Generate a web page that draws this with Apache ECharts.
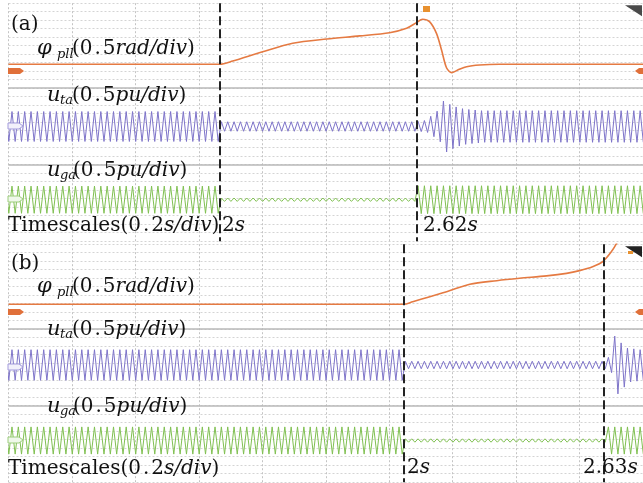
<!DOCTYPE html>
<html><head><meta charset="utf-8">
<script src="https://cdn.jsdelivr.net/npm/echarts@6/dist/echarts.min.js"></script>
<style>html,body{margin:0;padding:0;background:#fff}#c{width:643px;height:483px}</style>
</head><body><div id="c"></div>
<script>
// ================= DATA =================
const PERIOD = 0.02;                 // s (50 Hz)
const timeWindowA = [1.334, 3.334];  // s, 10 div x 0.2 s/div
const timeWindowB = [0.754, 2.754];
const eventTimesA = [2, 2.62];
const eventTimesB = [2, 2.63];
const eventLabelsA = ['2', '2.62'];
const eventLabelsB = ['2', '2.63'];
const cycleStartA = 1.32;            // start time of first listed cycle
const cycleStartB = 0.74;

// phase-locked-loop angle (rad), panel (a)
const phiA_t = [1.334, 2.0, 2.041, 2.135, 2.23, 2.337, 2.441, 2.535, 2.589, 2.62, 2.639, 2.661, 2.683, 2.699, 2.715, 2.731, 2.75, 2.778, 2.819, 2.882, 3.334];
const phiA_v = [0, 0, 0.19, 0.74, 1.24, 1.49, 1.67, 1.86, 2.12, 2.45, 2.65, 2.51, 1.82, 0.84, -0.22, -0.49, -0.34, -0.14, -0.04, 0, 0];
// panel (b)
const phiB_t = [0.754, 2.0, 2.028, 2.135, 2.208, 2.293, 2.365, 2.45, 2.513, 2.554, 2.595, 2.627, 2.658, 2.671, 2.687];
const phiB_v = [0, 0, 0.15, 0.74, 1.18, 1.39, 1.53, 1.67, 1.82, 1.98, 2.21, 2.51, 3.19, 3.59, 4.14];

// per-cycle peak amplitude (pu) of u_ta and u_ga
const utaA_amp = [
0.88,0.88,0.88,0.88,0.88,0.88,0.88,0.88,0.88,0.88,
0.88,0.88,0.88,0.88,0.88,0.88,0.88,0.88,0.88,0.88,
0.88,0.88,0.88,0.88,0.88,0.88,0.88,0.88,0.88,0.88,
0.88,0.88,0.88,0.88,0.28,0.28,0.28,0.28,0.28,0.28,
0.28,0.28,0.28,0.28,0.28,0.28,0.28,0.28,0.28,0.28,
0.28,0.28,0.28,0.28,0.28,0.28,0.28,0.28,0.28,0.28,
0.28,0.28,0.28,0.28,0.28,0.30,0.35,0.60,0.90,1.50,
1.30,1.15,1.05,1.00,0.97,0.93,0.93,0.93,0.93,0.93,
0.93,0.93,0.93,0.93,0.93,0.93,0.93,0.93,0.93,0.93,
0.93,0.93,0.93,0.93,0.93,0.93,0.93,0.93,0.93,0.93,
0.93];
const ugaA_amp = [
0.80,0.80,0.80,0.80,0.80,0.80,0.80,0.80,0.80,0.80,
0.80,0.80,0.80,0.80,0.80,0.80,0.80,0.80,0.80,0.80,
0.80,0.80,0.80,0.80,0.80,0.80,0.80,0.80,0.80,0.80,
0.80,0.80,0.80,0.80,0.10,0.10,0.10,0.10,0.10,0.10,
0.10,0.10,0.10,0.10,0.10,0.10,0.10,0.10,0.10,0.10,
0.10,0.10,0.10,0.10,0.10,0.10,0.10,0.10,0.10,0.10,
0.10,0.10,0.10,0.10,0.10,0.82,0.82,0.82,0.82,0.82,
0.82,0.82,0.82,0.82,0.82,0.82,0.82,0.82,0.82,0.82,
0.82,0.82,0.82,0.82,0.82,0.82,0.82,0.82,0.82,0.82,
0.82,0.82,0.82,0.82,0.82,0.82,0.82,0.82,0.82,0.82,
0.82];
const utaB_amp = [
0.90,0.90,0.90,0.90,0.90,0.90,0.90,0.90,0.90,0.90,
0.90,0.90,0.90,0.90,0.90,0.90,0.90,0.90,0.90,0.90,
0.90,0.90,0.90,0.90,0.90,0.90,0.90,0.90,0.90,0.90,
0.90,0.90,0.90,0.90,0.90,0.90,0.90,0.90,0.90,0.90,
0.90,0.90,0.90,0.90,0.90,0.90,0.90,0.90,0.90,0.90,
0.90,0.90,0.90,0.90,0.90,0.90,0.90,0.90,0.90,0.90,
0.90,0.90,0.90,0.22,0.22,0.22,0.22,0.22,0.22,0.22,
0.22,0.22,0.22,0.22,0.22,0.22,0.22,0.22,0.22,0.22,
0.22,0.22,0.22,0.22,0.22,0.22,0.22,0.22,0.22,0.22,
0.22,0.22,0.22,0.22,0.22,0.45,1.70,1.30,1.00,0.95,
0.90];
const ugaB_amp = [
0.80,0.80,0.80,0.80,0.80,0.80,0.80,0.80,0.80,0.80,
0.80,0.80,0.80,0.80,0.80,0.80,0.80,0.80,0.80,0.80,
0.80,0.80,0.80,0.80,0.80,0.80,0.80,0.80,0.80,0.80,
0.80,0.80,0.80,0.80,0.80,0.80,0.80,0.80,0.80,0.80,
0.80,0.80,0.80,0.80,0.80,0.80,0.80,0.80,0.80,0.80,
0.80,0.80,0.80,0.80,0.80,0.80,0.80,0.80,0.80,0.80,
0.80,0.80,0.80,0.10,0.10,0.10,0.10,0.10,0.10,0.10,
0.10,0.10,0.10,0.10,0.10,0.10,0.10,0.10,0.10,0.10,
0.10,0.10,0.10,0.10,0.10,0.10,0.10,0.10,0.10,0.10,
0.10,0.10,0.10,0.10,0.10,0.80,0.80,0.80,0.80,0.80,
0.80];

const panelTags = ['(a)', '(b)'];
const chanNames = [['\u03c6', 'pll', '(0\u200a.\u200a5', 'rad/div', ')'], ['u', 'ta', '(0\u200a.\u200a5', 'pu/div', ')'], ['u', 'ga', '(0\u200a.\u200a5', 'pu/div', ')']];
const timescaleText = ['Timescales(0\u200a.\u200a2', 's/div', ')'];

// ================= LAYOUT / STYLE =================
const DIV_PX = 8.5, GRID_H = 238, GRID_W = 635, GRID_L = 8.5;
const panelTop = [3.2, 244.2];
const chanCenter = [[61.1, 123.3, 196.5], [60.1, 120.8, 196.3]]; // px from panel top
const UNIT_PER_DIV = 0.5;
const COL_PHI = '#e57a42', COL_UTA = '#7e74c9', COL_UGA = '#80c052';
const SERIF = '"DejaVu Serif", "Liberation Serif", serif';

function zig(start, amps) {
  const pts = [];
  amps.forEach((a, k) => {
    const t = start + k * PERIOD;
    pts.push([t + PERIOD / 4, a], [t + 3 * PERIOD / 4, -a]);
  });
  return pts;
}
function pairs(t, v) { return t.map((x, i) => [x, v[i]]); }

const grids = [], xAxes = [], yAxes = [], series = [];
const panels = [
  {win: timeWindowA, ev: eventTimesA, phi: pairs(phiA_t, phiA_v), uta: zig(cycleStartA, utaA_amp), uga: zig(cycleStartA, ugaA_amp)},
  {win: timeWindowB, ev: eventTimesB, phi: pairs(phiB_t, phiB_v), uta: zig(cycleStartB, utaB_amp), uga: zig(cycleStartB, ugaB_amp)}
];
panels.forEach((p, i) => {
  grids.push({left: GRID_L, top: panelTop[i], width: GRID_W, height: GRID_H});
  xAxes.push({type: 'value', gridIndex: i, min: 0, max: 10, interval: 1,
    axisLine: {show: false}, axisTick: {show: false}, axisLabel: {show: false},
    splitLine: {show: true, lineStyle: {type: [2, 2], color: '#c4c4c4', width: 1}}});
  const xt = xAxes.length;
  xAxes.push({type: 'value', gridIndex: i, min: p.win[0], max: p.win[1], show: false});
  const yd = yAxes.length;
  yAxes.push({type: 'value', gridIndex: i, min: 0, max: 28, interval: 1, inverse: true,
    axisLine: {show: false}, axisTick: {show: false}, axisLabel: {show: false},
    splitLine: {show: true, lineStyle: {type: [2, 2], color: '#d4d4d4', width: 1}}});
  const chanAx = chanCenter[i].map(c => {
    yAxes.push({type: 'value', gridIndex: i, show: false,
      max: (c / DIV_PX) * UNIT_PER_DIV, min: -((GRID_H - c) / DIV_PX) * UNIT_PER_DIV});
    return yAxes.length - 1;
  });
  series.push({type: 'line', xAxisIndex: xt, yAxisIndex: yd, data: [], silent: true,
    markLine: {silent: true, symbol: 'none', label: {show: false}, animation: false,
      data: [
        {yAxis: 10, lineStyle: {type: 'solid', color: '#b9b9b9', width: 1.5}},
        {yAxis: 19, lineStyle: {type: 'solid', color: '#b9b9b9', width: 1.5}}
      ]}});
  series.push({type: 'line', xAxisIndex: xt, yAxisIndex: chanAx[2], data: p.uga, showSymbol: false,
    lineStyle: {color: COL_UGA, width: 1}, itemStyle: {color: COL_UGA}, silent: true});
  series.push({type: 'line', xAxisIndex: xt, yAxisIndex: chanAx[1], data: p.uta, showSymbol: false,
    lineStyle: {color: COL_UTA, width: 1}, itemStyle: {color: COL_UTA}, silent: true});
  series.push({type: 'line', xAxisIndex: xt, yAxisIndex: chanAx[0], data: p.phi, showSymbol: false, smooth: 0.3,
    lineStyle: {color: COL_PHI, width: 1.6}, itemStyle: {color: COL_PHI}, silent: true});
  series.push({type: 'line', xAxisIndex: xt, yAxisIndex: yd, data: [], silent: true, z: 10,
    markLine: {silent: true, symbol: 'none', label: {show: false}, animation: false,
      lineStyle: {type: [9, 4], color: '#222', width: 2},
      data: p.ev.map(t => ({xAxis: t}))}});
});

// ---------- text + scope decorations ----------
const G = [];
function txt(x, y, text, font) {
  G.push({type: 'text', x: x, y: y, z: 100, silent: true,
    style: {text: text, font: font, fill: '#111', align: 'left', verticalAlign: 'middle',
      textAlign: 'left', textVerticalAlign: 'middle'}});
}
function rich(x, y, parts) {
  const s = parts.map(p => '{' + p[0] + '|' + p[1] + '}').join('');
  G.push({type: 'text', x: x, y: y, z: 100, silent: true,
    style: {text: s, align: 'left', verticalAlign: 'middle', textAlign: 'left', textVerticalAlign: 'middle',
      rich: {n: {font: '20px ' + SERIF, fill: '#111'}, i: {font: 'italic 20px ' + SERIF, fill: '#111'}}}});
}
const labPos = [
  {tag: [11, 25], ch: [[37, 49, 57, 55, 72], [47, 96, 60, 101, 72], [47, 171, 60, 176, 73]], ts: [8, 226], ev: [[222, 226], [423, 226]]},
  {tag: [11, 264], ch: [[37, 287, 57, 293, 72], [47, 330, 60, 335, 72], [47, 407, 60, 412, 73]], ts: [8, 469], ev: [[407, 468], [583, 468]]}
];
const evLabs = [eventLabelsA, eventLabelsB];
labPos.forEach((L, i) => {
  txt(L.tag[0], L.tag[1], panelTags[i], '20px ' + SERIF);
  L.ch.forEach((c, k) => {
    const nm = chanNames[k];
    txt(c[0], c[1], nm[0], 'italic 21px ' + SERIF);
    txt(c[2], c[3], nm[1], 'italic 13px ' + SERIF);
    rich(c[4], c[1], [['n', nm[2]], ['i', nm[3]], ['n', nm[4]]]);
  });
  rich(L.ts[0], L.ts[1], [['n', timescaleText[0]], ['i', timescaleText[1]], ['n', timescaleText[2]]]);
  L.ev.forEach((e, k) => rich(e[0], e[1], [['n', evLabs[i][k]], ['i', 's']]));
});

// channel markers (scope decorations)
[[0, 3.2], [1, 244.2]].forEach(([i, top]) => {
  const yc = [top + 67.8, top + 122.8, top + 195.8];
  const y1 = yc[0];
  G.push({type: 'polygon', z: 90, silent: true, shape: {points: [[8, y1 - 3], [20, y1 - 3], [24, y1], [20, y1 + 3], [8, y1 + 3]]}, style: {fill: '#e0703a'}});
  G.push({type: 'polygon', z: 90, silent: true, shape: {points: [[8, yc[1] - 3], [19, yc[1] - 3], [23, yc[1]], [19, yc[1] + 3], [8, yc[1] + 3]]}, style: {fill: '#f2f0fb', stroke: '#a39bdc', lineWidth: 1}});
  G.push({type: 'polygon', z: 90, silent: true, shape: {points: [[8, yc[2] - 3], [19, yc[2] - 3], [23, yc[2]], [19, yc[2] + 3], [8, yc[2] + 3]]}, style: {fill: '#eff8ea', stroke: '#9ccc7c', lineWidth: 1}});
  G.push({type: 'polygon', z: 90, silent: true, shape: {points: [[635, y1], [639, y1 - 3], [643, y1 - 3], [643, y1 + 3], [639, y1 + 3]]}, style: {fill: '#e0703a'}});
  G.push({type: 'polygon', z: 90, silent: true, shape: {points: [[625, top + 2], [642, top + 2], [642, top + 13]]}, style: {fill: i === 0 ? '#4a4a4a' : '#222'}});
});
G.push({type: 'rect', z: 90, silent: true, shape: {x: 423, y: 6, width: 7, height: 6}, style: {fill: '#e8912f'}});
G.push({type: 'rect', z: 91, silent: true, shape: {x: 628, y: 251, width: 5, height: 3}, style: {fill: '#e8912f'}});

const chart = echarts.init(document.getElementById('c'), null, {renderer: 'canvas'});
chart.setOption({
  animation: false,
  backgroundColor: '#ffffff',
  grid: grids, xAxis: xAxes, yAxis: yAxes, series: series, graphic: G
});
</script></body></html>
